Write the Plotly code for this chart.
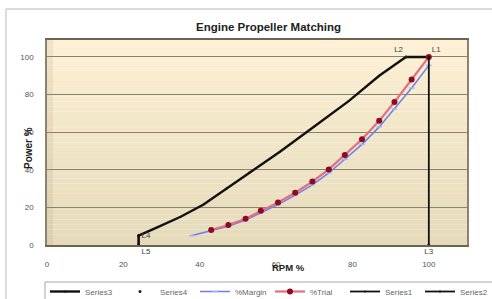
import plotly.graph_objects as go

# ---- data ----
env_x = [24, 24, 29, 35, 41, 47, 53, 61, 70, 79, 87, 94, 100]
env_y = [0, 5, 9.5, 15, 21.5, 30, 38.5, 49.6, 63, 76.5, 90, 100, 100]

lbl_x = [100, 94, 100, 24, 24]
lbl_y = [100, 100, 0, 5, 0]
lbl_t = ["L1", "L2", "L3", "L4", "L5"]

margin_x = [38, 43, 47.5, 52, 56, 60.5, 65, 69.5, 73.8, 78, 82.5, 87, 91, 95.5, 100]
margin_y = [5, 7.5, 10, 13.3, 17.3, 21.5, 26.5, 32, 38.3, 45.5, 53.5, 62.8, 72.3, 83.5, 95.5]

trial_x = [43, 47.5, 52, 56, 60.5, 65, 69.5, 73.8, 78, 82.5, 87, 91, 95.5, 100]
trial_y = [8, 10.6, 14, 18.2, 22.6, 27.8, 33.7, 40.2, 47.8, 56.2, 66, 76, 88, 100]

s1_x = [100, 100]
s1_y = [0, 100]
s2_x = [24, 24]
s2_y = [0, 5]

x_ticks = [0, 20, 40, 60, 80, 100]
y_ticks = [0, 20, 40, 60, 80, 100]

W, H = 492, 299
L, R, T, B = 47, 467, 40, 245

fig = go.Figure()

fig.add_trace(go.Scatter(x=env_x, y=env_y, name="Series3", mode="lines+markers",
                         line=dict(color="#111111", width=2.4),
                         marker=dict(size=2, color="#111111")))
fig.add_trace(go.Scatter(x=lbl_x, y=lbl_y, name="Series4", mode="markers+text",
                         text=lbl_t, cliponaxis=False,
                         textposition=["top right", "top left", "bottom center", "middle right", "bottom right"],
                         textfont=dict(size=8, color="#444444", family="Liberation Sans"),
                         marker=dict(size=3, color="#222222")))
fig.add_trace(go.Scatter(x=margin_x, y=margin_y, name="%Margin", mode="lines+markers",
                         line=dict(color="#6F7CF0", width=1.5),
                         marker=dict(size=4, symbol="line-ew", color="#9FB6F5",
                                     line=dict(color="#9FB6F5", width=1.5))))
fig.add_trace(go.Scatter(x=trial_x, y=trial_y, name="%Trial", mode="lines+markers",
                         line=dict(color="#E07080", width=2.2),
                         marker=dict(size=6, color="#8E0A22")))
fig.add_trace(go.Scatter(x=s1_x, y=s1_y, name="Series1", mode="lines+markers",
                         line=dict(color="#111111", width=1.8),
                         marker=dict(size=2, color="#111111")))
fig.add_trace(go.Scatter(x=s2_x, y=s2_y, name="Series2", mode="lines+markers",
                         line=dict(color="#111111", width=1.8),
                         marker=dict(size=2, color="#111111")))

pw, ph = R - L, B - T
def px(xp):
    return (xp - L) / pw
def py(yp):
    return (B - yp) / ph

shapes = []
# outer chart border
shapes.append(dict(type="rect", xref="paper", yref="paper", x0=px(6), x1=px(520),
                   y0=py(320), y1=py(9), line=dict(color="#B8B8B8", width=1),
                   fillcolor="rgba(0,0,0,0)", layer="below"))
# legend box
shapes.append(dict(type="rect", xref="paper", yref="paper", x0=px(45), x1=px(520),
                   y0=py(320), y1=py(282), line=dict(color="#A8A8A8", width=1),
                   fillcolor="white", layer="below"))
# plot-area gradient
top = (253, 240, 212)
bot = (229, 218, 186)
n = 40
for i in range(n):
    f = i / (n - 1)
    c = tuple(round(bot[k] + (top[k] - bot[k]) * f) for k in range(3))
    shapes.append(dict(type="rect", xref="paper", yref="paper", x0=0, x1=1,
                       y0=i / n, y1=(i + 1) / n, line=dict(width=0),
                       fillcolor="rgb(%d,%d,%d)" % c, layer="below"))
# left shadow
shapes.append(dict(type="rect", xref="paper", yref="paper", x0=0, x1=px(L + 6),
                   y0=0, y1=1, line=dict(width=0),
                   fillcolor="rgba(150,130,100,0.12)", layer="below"))

fig.update_layout(
    width=W, height=H,
    margin=dict(l=L, r=W - R, t=T, b=H - B, pad=0, autoexpand=False),
    paper_bgcolor="white",
    plot_bgcolor="rgba(0,0,0,0)",
    shapes=shapes,
    showlegend=True,
    legend=dict(orientation="h", x=px(45), y=py(277), xanchor="left", yanchor="top",
                bgcolor="rgba(0,0,0,0)", borderwidth=0,
                font=dict(size=8, color="#666666", family="Liberation Sans"),
                itemwidth=30, tracegroupgap=0, entrywidth=30),
    font=dict(family="Liberation Sans", size=8, color="#444444"),
    annotations=[
        dict(text="<b>Engine Propeller Matching</b>", xref="paper", yref="paper",
             x=px(268), y=py(27), xanchor="center", yanchor="middle", showarrow=False,
             font=dict(size=11.5, color="#222222", family="Liberation Sans")),
        dict(text="<b>Power %</b>", xref="paper", yref="paper", x=px(28), y=py(148),
             xanchor="center", yanchor="middle", showarrow=False, textangle=-90,
             font=dict(size=10, color="#222222", family="Liberation Sans")),
        dict(text="<b>RPM %</b>", xref="paper", yref="paper", x=px(288), y=py(267),
             xanchor="center", yanchor="middle", showarrow=False,
             font=dict(size=9.5, color="#222222", family="Liberation Sans")),
    ],
)
fig.update_xaxes(range=[0, 110], tickvals=x_ticks, ticktext=[str(v) for v in x_ticks],
                 showgrid=False, zeroline=False, showline=True, linecolor="#6E6450",
                 linewidth=2, ticks="", ticklabelstandoff=10, mirror=True,
                 tickfont=dict(size=8, color="#555555"))
fig.update_yaxes(range=[0, 109], tickvals=y_ticks, ticktext=[str(v) for v in y_ticks],
                 showgrid=True, gridcolor="#8C8270", gridwidth=1, zeroline=False,
                 showline=True, linecolor="#8C8270", linewidth=1.5, mirror=True,
                 ticks="", ticklabelstandoff=10,
                 tickfont=dict(size=8, color="#555555"))

fig.write_html("out.html", config={"displayModeBar": False},
               post_script="document.body.style.margin='0';document.body.style.overflow='hidden';")
